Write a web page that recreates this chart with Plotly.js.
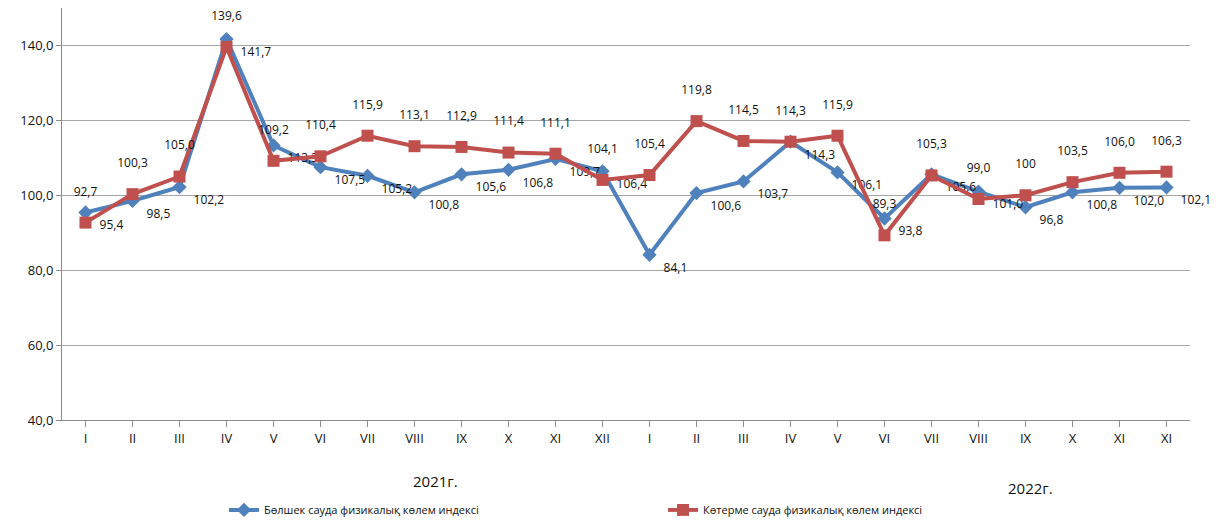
<!DOCTYPE html>
<html><head><meta charset="utf-8">
<script src="https://cdn.plot.ly/plotly-3.0.1.min.js"></script>
<style>body{margin:0;background:#fff}#c{width:1220px;height:521px}</style>
</head><body><div id="c"></div>
<script>
const months = ["I","II","III","IV","V","VI","VII","VIII","IX","X","XI","XII","I","II","III","IV","V","VI","VII","VIII","IX","X","XI","XI"];
const retail = [95.4,98.5,102.2,141.7,113.3,107.5,105.2,100.8,105.6,106.8,109.7,106.4,84.1,100.6,103.7,114.3,106.1,93.8,105.6,101.0,96.8,100.8,102.0,102.1];
const wholesale = [92.7,100.3,105.0,139.6,109.2,110.4,115.9,113.1,112.9,111.4,111.1,104.1,105.4,119.8,114.5,114.3,115.9,89.3,105.3,99.0,100,103.5,106.0,106.3];
const seriesNames = ["Бөлшек сауда физикалық көлем индексі","Көтерме сауда физикалық көлем индексі"];
const years = ["2021г.","2022г."];

const xs = months.map((m,i)=>i);
const fmt = v => v===100 ? "100" : v.toFixed(1).replace('.',',');
const font = "Open Sans, Noto Sans, sans-serif";
const nb = '\u00a0\u00a0';

const traces = [
 {x:xs,y:retail,name:seriesNames[0],type:'scatter',mode:'lines+markers+text',
  line:{color:'#4F81BD',width:4},marker:{symbol:'diamond',size:11,color:'#4F81BD'},
  text:retail.map(v=>nb+v.toFixed(1).replace('.',',')),textposition:'bottom right',
  textfont:{family:font,size:12,color:'#111'},cliponaxis:false},
 {x:xs,y:wholesale,name:seriesNames[1],type:'scatter',mode:'lines+markers+text',
  line:{color:'#C0504D',width:4},marker:{symbol:'square',size:12,color:'#C0504D'},
  text:wholesale.map(v=>fmt(v)+'<br><span style="font-size:5px"> </span>'),textposition:'top center',
  textfont:{family:font,size:12,color:'#111'},cliponaxis:false}
];

const layout = {
 width:1220,height:521,margin:{l:62,r:30,t:8,b:101,autoexpand:false},
 paper_bgcolor:'#fff',plot_bgcolor:'#fff',separators:', ',
 font:{family:font,size:12,color:'#111'},
 xaxis:{range:[-0.5,23.5],tickmode:'array',tickvals:xs,ticktext:months,
   showgrid:false,showline:true,linecolor:'#8c8c8c',linewidth:1,
   ticks:'outside',ticklen:6,tickcolor:'#8c8c8c',tickson:'boundaries',
   tickfont:{family:font,size:13,color:'#111'},zeroline:false,automargin:false},
 yaxis:{range:[40,150],tickvals:[40,60,80,100,120,140],tickformat:'.1f',
   showgrid:true,gridcolor:'#a6a6a6',gridwidth:1,showline:true,linecolor:'#8c8c8c',
   ticks:'outside',ticklen:5,tickcolor:'#8c8c8c',zeroline:false,automargin:false,
   tickfont:{family:font,size:13,color:'#111'}},
 showlegend:true,
 legend:{orientation:'h',x:0.1436,xanchor:'left',y:-0.183,yanchor:'top',
   entrywidth:394,entrywidthmode:'pixels',font:{family:font,size:11,color:'#111'},
   bgcolor:'rgba(0,0,0,0)'},
 annotations:[
  {xref:'x',yref:'paper',x:7.44,y:-0.118,text:years[0],showarrow:false,yanchor:'top',font:{family:font,size:15,color:'#111'}},
  {xref:'x',yref:'paper',x:20.1,y:-0.135,text:years[1],showarrow:false,yanchor:'top',font:{family:font,size:15,color:'#111'}}
 ]
};
Plotly.newPlot('c',traces,layout,{displayModeBar:false,staticPlot:true});
</script></body></html>
